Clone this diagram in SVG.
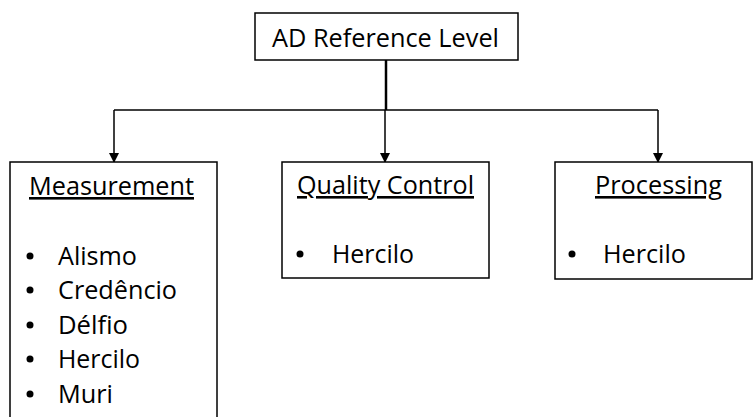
<svg xmlns="http://www.w3.org/2000/svg" width="753" height="417" viewBox="0 0 753 417">
<style>
.box{fill:#fff;stroke:#000;stroke-width:1.5}
.t{font-family:"Open Sans","Liberation Sans",sans-serif;font-size:26px;fill:#000}
.h{text-decoration:underline}
.ln{fill:none;stroke:#000;stroke-width:1.5}
.b{fill:#000}
</style>
<defs>
<marker id="ah" markerWidth="10" markerHeight="12" refX="9" refY="5" orient="auto" markerUnits="userSpaceOnUse">
<path d="M0,0 L10,5 L0,10 Z" fill="#000"/>
</marker>
</defs>
<rect width="753" height="417" fill="#fff"/>
<g id="connectors">
<line x1="386" y1="60" x2="386" y2="110" stroke="#000" stroke-width="2.5"/>
<line x1="114" y1="110" x2="658" y2="110" class="ln"/>
<path d="M114,110 V162" class="ln" marker-end="url(#ah)"/>
<path d="M385,110 V162" class="ln" marker-end="url(#ah)"/>
<path d="M658,110 V162" class="ln" marker-end="url(#ah)"/>
</g>
<g id="root">
<rect x="255" y="13" width="263" height="47" class="box"/>
<text x="272" y="47" class="t" textLength="227" lengthAdjust="spacingAndGlyphs">AD Reference Level</text>
</g>
<g id="measurement">
<rect x="10" y="162" width="207" height="270" class="box"/>
<text x="29" y="195" class="t h" textLength="165" lengthAdjust="spacingAndGlyphs">Measurement</text>
<circle class="b" cx="30" cy="256" r="3.5"/><text class="t" x="58" y="265" textLength="79" lengthAdjust="spacingAndGlyphs">Alismo</text>
<circle class="b" cx="30" cy="290" r="3.5"/><text class="t" x="58" y="299" textLength="119" lengthAdjust="spacingAndGlyphs">Credêncio</text>
<circle class="b" cx="30" cy="325" r="3.5"/><text class="t" x="58" y="334" textLength="70" lengthAdjust="spacingAndGlyphs">Délfio</text>
<circle class="b" cx="30" cy="359" r="3.5"/><text class="t" x="58" y="368" textLength="82" lengthAdjust="spacingAndGlyphs">Hercilo</text>
<circle class="b" cx="30" cy="394" r="3.5"/><text class="t" x="58" y="403" textLength="55" lengthAdjust="spacingAndGlyphs">Muri</text>
</g>
<g id="quality">
<rect x="282" y="162" width="207" height="116" class="box"/>
<text x="297" y="194" class="t h" textLength="177" lengthAdjust="spacingAndGlyphs">Quality Control</text>
<circle class="b" cx="300" cy="254" r="3.5"/>
<text x="332" y="263" class="t" textLength="82" lengthAdjust="spacingAndGlyphs">Hercilo</text>
</g>
<g id="processing">
<rect x="555" y="162" width="197" height="117" class="box"/>
<text x="595" y="194" class="t h" textLength="127" lengthAdjust="spacingAndGlyphs">Processing</text>
<circle class="b" cx="572" cy="254" r="3.5"/>
<text x="603" y="263" class="t" textLength="83" lengthAdjust="spacingAndGlyphs">Hercilo</text>
</g>
</svg>
